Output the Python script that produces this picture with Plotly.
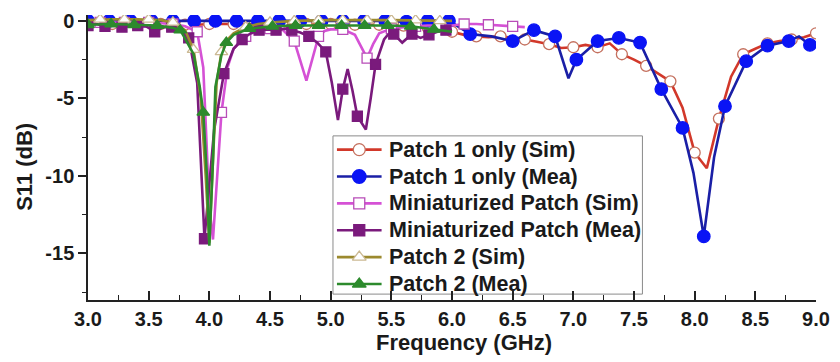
import plotly.graph_objects as go

# ---------------- data ----------------
# Patch 1 only (Sim)
p1_sim_x = [3.0, 3.1, 3.2, 3.3, 3.4, 3.5, 3.6, 3.7, 3.8, 3.9, 4.0, 4.1, 4.2, 4.3, 4.4, 4.5,
            4.6, 4.7, 4.8, 4.9, 5.0, 5.1, 5.2, 5.3, 5.4, 5.5, 5.6, 5.7, 5.8, 5.9, 6.0, 6.1,
            6.2, 6.3, 6.4, 6.5, 6.6, 6.7, 6.8, 6.9, 7.0, 7.1, 7.2, 7.3, 7.4, 7.5, 7.6, 7.7,
            7.8, 7.9, 8.0, 8.1, 8.2, 8.3, 8.4, 8.5, 8.6, 8.7, 8.8, 8.9, 9.0]
p1_sim_y = [-0.15, -0.2, -0.2, -0.2, -0.2, -0.2, -0.2, -0.2, -0.25, -0.25, -0.2, -0.2, -0.2,
            -0.2, -0.2, -0.2, -0.2, -0.2, -0.2, -0.2, -0.2, -0.2, -0.25, -0.25, -0.25, -0.3,
            -0.3, -0.35, -0.45, -0.55, -0.7, -0.9, -1.0, -1.05, -1.0, -1.1, -1.2, -1.35, -1.5,
            -1.75, -1.7, -1.55, -1.7, -1.45, -2.15, -2.5, -2.9, -3.4, -3.9, -5.6, -8.5, -9.5,
            -6.3, -3.6, -2.15, -1.8, -1.45, -1.3, -1.2, -1.05, -0.8]

# Patch 1 only (Mea)
p1_mea_x = [3.0, 3.175, 3.35, 3.525, 3.7, 3.875, 4.05, 4.225, 4.4, 4.575, 4.75, 4.925, 5.1,
            5.275, 5.45, 5.625, 5.8, 5.975, 6.15, 6.325, 6.5, 6.675, 6.85, 6.96, 7.025, 7.2,
            7.375, 7.55, 7.725, 7.9, 7.99, 8.075, 8.16, 8.25, 8.425, 8.6, 8.775, 8.86, 8.95]
p1_mea_y = [0.0, 0.0, 0.0, 0.0, 0.0, 0.0, 0.0, 0.0, 0.0, 0.0, 0.0, 0.0, 0.0, 0.0, 0.0, -0.05,
            0.0, 0.0, -0.85, -1.0, -1.3, -0.6, -1.0, -3.7, -2.5, -1.3, -1.1, -1.4, -4.4, -6.9,
            -9.8, -13.9, -8.8, -5.5, -2.6, -1.6, -1.3, -1.0, -1.55]
p1_mea_mx = [3.0, 3.175, 3.35, 3.525, 3.7, 3.875, 4.05, 4.225, 4.4, 4.575, 4.75, 4.925, 5.1,
             5.275, 5.45, 5.625, 5.8, 5.975, 6.15, 6.5, 6.675, 6.85, 7.025, 7.2,
             7.375, 7.55, 7.725, 7.9, 8.075, 8.25, 8.425, 8.6, 8.775, 8.95]
p1_mea_my = [0.0, 0.0, 0.0, 0.0, 0.0, 0.0, 0.0, 0.0, 0.0, 0.0, 0.0, 0.0, 0.0, 0.0, 0.0, -0.05,
             0.0, 0.0, -0.85, -1.3, -0.6, -1.0, -2.5, -1.3, -1.1, -1.4, -4.4, -6.9,
             -13.9, -5.5, -2.6, -1.6, -1.3, -1.55]

# Miniaturized Patch (Sim)
mini_sim_x = [3.0, 3.1, 3.2, 3.3, 3.4, 3.5, 3.6, 3.7, 3.8, 3.9, 3.95, 4.0, 4.03, 4.07, 4.1,
              4.15, 4.2, 4.3, 4.4, 4.5, 4.6, 4.7, 4.8, 4.9, 4.95, 5.0, 5.1, 5.2, 5.3, 5.35,
              5.4, 5.5, 5.6, 5.7, 5.8, 5.9, 6.0, 6.1, 6.2, 6.3, 6.4, 6.5, 6.6]
mini_sim_y = [-0.1, -0.1, -0.1, -0.1, -0.1, -0.1, -0.15, -0.2, -0.35, -0.7, -3.0, -12.0,
              -14.1, -9.5, -5.9, -3.0, -1.8, -1.0, -0.6, -0.5, -0.55, -1.3, -3.85, -1.0,
              -0.65, -0.55, -0.55, -0.9, -2.4, -1.5, -0.8, -0.5, -0.4, -0.35, -0.3, -0.3,
              -0.3, -0.2, -0.2, -0.25, -0.3, -0.35, -0.4]
mini_sim_mx = [3.1, 3.3, 3.5, 3.7, 3.9, 4.1, 4.3, 4.5, 4.7, 4.9, 5.1, 5.3, 5.5, 5.7, 5.9,
               6.1, 6.3, 6.5]
mini_sim_my = [-0.1, -0.1, -0.1, -0.2, -0.7, -5.9, -1.0, -0.5, -1.3, -1.0, -0.55, -2.4,
               -0.5, -0.35, -0.3, -0.2, -0.25, -0.35]

# Miniaturized Patch (Mea)
mini_mea_x = [3.0, 3.07, 3.14, 3.21, 3.28, 3.35, 3.41, 3.48, 3.55, 3.62, 3.69, 3.76, 3.83,
              3.9, 3.96, 4.04, 4.12, 4.2, 4.27, 4.34, 4.41, 4.48, 4.55, 4.62, 4.68, 4.75,
              4.82, 4.89, 4.96, 5.01, 5.06, 5.1, 5.14, 5.18, 5.22, 5.29, 5.33, 5.37, 5.44,
              5.47, 5.52, 5.59, 5.67, 5.74, 5.81, 5.88, 5.95, 6.0]
mini_mea_y = [-0.3, -0.2, -0.35, -0.25, -0.4, -0.3, -0.3, -0.35, -0.7, -0.4, -0.4, -0.6,
              -1.1, -4.0, -14.05, -7.0, -3.4, -1.8, -1.2, -0.8, -0.6, -0.55, -0.6, -0.5,
              -0.6, -0.75, -1.0, -1.4, -2.0, -4.0, -6.4, -4.4, -3.1, -4.5, -6.15, -7.0, -5.0,
              -2.8, -1.2, -0.9, -0.85, -1.4, -0.85, -1.1, -0.9, -0.7, -0.6, -0.55]
mini_mea_mx = [3.0, 3.14, 3.28, 3.41, 3.55, 3.69, 3.83, 3.96, 4.12, 4.27, 4.41, 4.55, 4.68,
               4.82, 4.96, 5.1, 5.22, 5.37, 5.52, 5.67, 5.81, 5.95]
mini_mea_my = [-0.3, -0.35, -0.4, -0.3, -0.7, -0.4, -1.1, -14.05, -3.4, -1.2, -0.6, -0.6,
               -0.6, -1.0, -2.0, -4.4, -6.15, -2.8, -0.85, -0.85, -0.9, -0.6]

# Patch 2 (Sim)
p2_sim_x = [3.0, 3.2, 3.4, 3.6, 3.7, 3.8, 3.87, 3.93, 3.97, 4.0, 4.03, 4.06, 4.1, 4.15, 4.2,
            4.3, 4.4, 4.5, 4.7, 5.0, 5.5, 6.0]
p2_sim_y = [0.05, 0.1, 0.1, 0.05, -0.1, -0.6, -1.85, -5.0, -10.0, -14.3, -9.0, -4.0, -2.0,
            -1.2, -0.8, -0.4, -0.2, -0.1, 0.0, 0.05, 0.05, 0.0]
p2_sim_mx = [3.1, 3.3, 3.5, 3.7, 3.87, 4.1, 4.3, 4.5, 4.7, 4.9, 5.1, 5.3, 5.5, 5.7, 5.9]
p2_sim_my = [0.1, 0.1, 0.1, -0.1, -1.85, -2.0, -0.4, -0.1, 0.0, 0.05, 0.05, 0.05, 0.05,
             0.05, 0.0]

# Patch 2 (Mea)
p2_mea_x = [3.0, 3.19, 3.38, 3.57, 3.7, 3.76, 3.79, 3.87, 3.92, 3.95, 3.98, 4.0, 4.03, 4.05,
            4.1, 4.14, 4.2, 4.33, 4.52, 4.71, 4.9, 5.09, 5.28, 5.47, 5.66, 5.85, 6.0]
p2_mea_y = [-0.25, -0.2, -0.25, -0.3, -0.45, -0.6, -1.0, -2.15, -4.2, -5.9, -10.0, -14.5,
            -9.0, -4.25, -2.2, -1.4, -0.9, -0.5, -0.35, -0.3, -0.3, -0.3, -0.3, -0.3, -0.35,
            -0.55, -0.7]
p2_mea_mx = [3.0, 3.19, 3.38, 3.57, 3.76, 3.95, 4.14, 4.33, 4.52, 4.71, 4.9, 5.09, 5.28,
             5.47, 5.66, 5.85]
p2_mea_my = [-0.25, -0.2, -0.25, -0.3, -0.6, -5.9, -1.4, -0.5, -0.35, -0.3, -0.3, -0.3,
             -0.3, -0.3, -0.35, -0.55]

x_ticks = [3.0, 3.5, 4.0, 4.5, 5.0, 5.5, 6.0, 6.5, 7.0, 7.5, 8.0, 8.5, 9.0]
x_tick_text = ["3.0", "3.5", "4.0", "4.5", "5.0", "5.5", "6.0", "6.5", "7.0", "7.5", "8.0",
               "8.5", "9.0"]
y_ticks = [0, -5, -10, -15]
y_tick_text = ["0", "-5", "-10", "-15"]

names = ["Patch 1 only (Sim)", "Patch 1 only (Mea)", "Miniaturized Patch (Sim)",
         "Miniaturized Patch (Mea)", "Patch 2 (Sim)", "Patch 2 (Mea)"]

# ---------------- figure ----------------
FONT = "Liberation Sans, Arial, sans-serif"
TXT = "#1a1a1a"

# plot-area pixel frame (used to place the boxed legend like the original figure)
PX_L, PX_R, PX_T, PX_B = 88, 822, 10, 300


def px_x(p):
    return (p - PX_L) / (PX_R - PX_L)


def px_y(p):
    return (PX_B - p) / (PX_B - PX_T)


series = [
    dict(lx=p1_sim_x, ly=p1_sim_y, mx=p1_sim_x[::2], my=p1_sim_y[::2],
         line="#d2382a", symbol="circle", fill="white", edge="#c4705e", size=11),
    dict(lx=p1_mea_x, ly=p1_mea_y, mx=p1_mea_mx, my=p1_mea_my,
         line="#1a1fa6", symbol="circle", fill="#0a14f5", edge="#0a14f5", size=12.5),
    dict(lx=mini_sim_x, ly=mini_sim_y, mx=mini_sim_mx, my=mini_sim_my,
         line="#d551d5", symbol="square", fill="white", edge="#b84cb8", size=10),
    dict(lx=mini_mea_x, ly=mini_mea_y, mx=mini_mea_mx, my=mini_mea_my,
         line="#7a1a7c", symbol="square", fill="#7a1a7c", edge="#7a1a7c", size=10),
    dict(lx=p2_sim_x, ly=p2_sim_y, mx=p2_sim_mx, my=p2_sim_my,
         line="#9c8a2e", symbol="triangle-up", fill="white", edge="#cbb993", size=11),
    dict(lx=p2_mea_x, ly=p2_mea_y, mx=p2_mea_mx, my=p2_mea_my,
         line="#2c8a2c", symbol="triangle-up", fill="#2c8a2c", edge="#2c8a2c", size=11),
]

fig = go.Figure()
for s, name in zip(series, names):
    fig.add_trace(go.Scatter(x=s["lx"], y=s["ly"], mode="lines", showlegend=False,
                             name=name, legendgroup=name,
                             line=dict(color=s["line"], width=2.6), hoverinfo="skip"))
    fig.add_trace(go.Scatter(x=s["mx"], y=s["my"], mode="markers", showlegend=False,
                             name=name, legendgroup=name,
                             marker=dict(symbol=s["symbol"], size=s["size"], color=s["fill"],
                                         line=dict(color=s["edge"], width=1.3))))

# ---- boxed legend (Origin style), drawn on an overlay pixel frame ----
LEG_L, LEG_R, LEG_T, LEG_B = 335, 647, 133, 294
ROW0, ROW_STEP = 147, 27.35
SYM_L, SYM_R, TXT_X = 339, 384, 389

shapes = [dict(type="rect", xref="paper", yref="paper", layer="below",
               x0=px_x(LEG_L), x1=px_x(LEG_R), y0=px_y(LEG_B), y1=px_y(LEG_T),
               line=dict(color="#8a8a8a", width=1), fillcolor="white")]
annotations = []
for i, (s, name) in enumerate(zip(series, names)):
    ry = ROW0 + ROW_STEP * i
    fig.add_trace(go.Scatter(x=[SYM_L, SYM_R], y=[ry, ry], mode="lines", xaxis="x2",
                             yaxis="y2", showlegend=False, hoverinfo="skip",
                             line=dict(color=s["line"], width=2.6)))
    fig.add_trace(go.Scatter(x=[(SYM_L + SYM_R) / 2], y=[ry], mode="markers", xaxis="x2",
                             yaxis="y2", showlegend=False, hoverinfo="skip",
                             marker=dict(symbol=s["symbol"], size=s["size"] + 1,
                                         color=s["fill"],
                                         line=dict(color=s["edge"], width=1.3))))
    annotations.append(dict(text=name, xref="paper", yref="paper", x=px_x(TXT_X),
                            y=px_y(ry), xanchor="left", yanchor="middle", showarrow=False,
                            font=dict(family=FONT, size=21.5, color=TXT, weight="bold")))

annotations += [
    dict(text="Frequency (GHz)", xref="paper", yref="paper", x=0.516, y=-0.148,
         xanchor="center", yanchor="middle", showarrow=False,
         font=dict(family=FONT, size=22, color=TXT, weight="bold")),
    dict(text="S11 (dB)", xref="paper", yref="paper", x=-0.0872, y=0.4655,
         xanchor="center", yanchor="middle", showarrow=False, textangle=-90,
         font=dict(family=FONT, size=22, color=TXT, weight="bold")),
]

fig.update_layout(
    width=840, height=362,
    margin=dict(l=PX_L, r=840 - PX_R, t=PX_T, b=362 - PX_B),
    paper_bgcolor="white", plot_bgcolor="white",
    font=dict(family=FONT, size=20, color=TXT, weight="bold"),
    showlegend=False,
    xaxis=dict(range=[3.0, 9.0], tickvals=x_ticks, ticktext=x_tick_text,
               ticks="inside", ticklen=9, tickwidth=1.5, tickcolor="#222",
               showline=True, linecolor="#222", linewidth=1.5, showgrid=False,
               zeroline=False, mirror=False,
               tickfont=dict(family=FONT, size=20, color=TXT, weight="bold"),
               minor=dict(dtick=0.25, tick0=3.0, ticks="inside", ticklen=5, tickwidth=1.2,
                          tickcolor="#222", showgrid=False)),
    yaxis=dict(range=[-18, 0.38], tickvals=y_ticks, ticktext=y_tick_text,
               ticks="outside", ticklen=8, tickwidth=1.5, tickcolor="#222",
               showline=True, linecolor="#222", linewidth=1.5, showgrid=False,
               zeroline=False, mirror=False,
               tickfont=dict(family=FONT, size=20, color=TXT, weight="bold"),
               minor=dict(tickvals=[-2.5, -7.5, -12.5, -17.5], ticks="outside", ticklen=4,
                          tickwidth=1.2, tickcolor="#222", showgrid=False)),
    xaxis2=dict(overlaying="x", anchor="y2", range=[PX_L, PX_R], visible=False,
                fixedrange=True),
    yaxis2=dict(overlaying="y", anchor="x2", range=[PX_B, PX_T], visible=False,
                fixedrange=True),
    shapes=shapes,
    annotations=annotations,
)

fig.write_html("out.html")
